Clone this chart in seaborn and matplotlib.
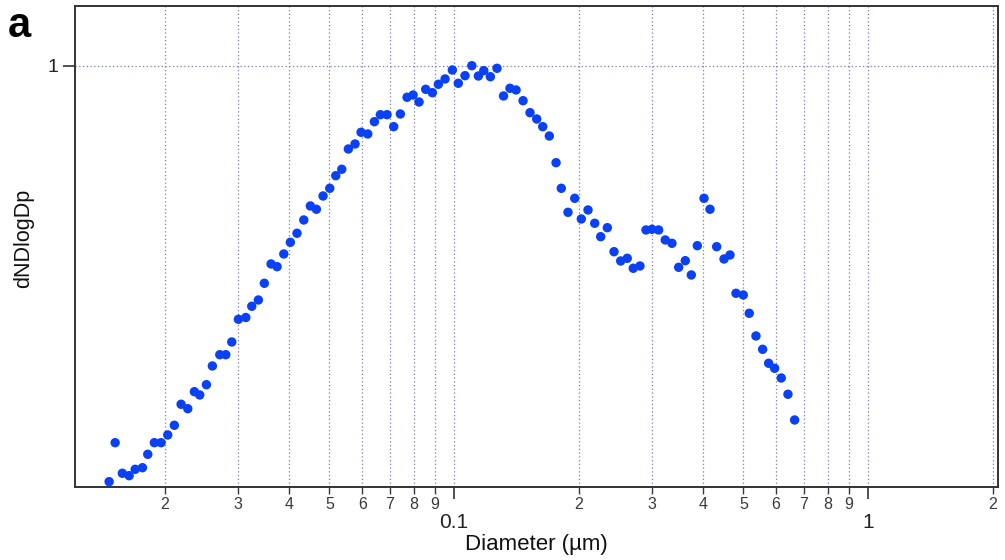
import matplotlib
matplotlib.use("Agg")
import matplotlib.pyplot as plt
import seaborn as sns
import pandas as pd
from matplotlib.ticker import FixedLocator, FixedFormatter

# ---- data (diameter in µm, normalised dN/dlogDp) ----
diameter_um = [
    0.01468, 0.01518, 0.01580, 0.01641, 0.01697, 0.01767, 0.01820, 0.01888,
    0.01960, 0.02034, 0.02110, 0.02191, 0.02274, 0.02359, 0.02430, 0.02522,
    0.02607, 0.02717, 0.02809, 0.02904, 0.03013, 0.03140, 0.03246, 0.03367,
    0.03481, 0.03614, 0.03737, 0.03879, 0.04023, 0.04175, 0.04335, 0.04497,
    0.04650, 0.04826, 0.05009, 0.05179, 0.05355, 0.05555, 0.05766, 0.05962,
    0.06188, 0.06420, 0.06637, 0.06889, 0.07149, 0.07418, 0.07700, 0.07962,
    0.08232, 0.08542, 0.08863, 0.09165, 0.09512, 0.09906, 0.1024, 0.1063,
    0.1104, 0.1145, 0.1180, 0.1224, 0.1270, 0.1317, 0.1365, 0.1412,
    0.1468, 0.1526, 0.1584, 0.1638, 0.1699, 0.1764, 0.1816, 0.1885,
    0.1957, 0.2030, 0.2107, 0.2187, 0.2261, 0.2346, 0.2435, 0.2527,
    0.2621, 0.2710, 0.2813, 0.2909, 0.3007, 0.3121, 0.3238, 0.3361,
    0.3489, 0.3620, 0.3743, 0.3870, 0.4017, 0.4153, 0.4310, 0.4490,
    0.4642, 0.4799, 0.4997, 0.5167, 0.5363, 0.5566, 0.5755, 0.5950,
    0.6173, 0.6408, 0.6650,
]
dndlogdp = [
    0.0138, 0.1062, 0.0337, 0.0280, 0.0431, 0.0469, 0.0787, 0.1062,
    0.1062, 0.1245, 0.1475, 0.1973, 0.1868, 0.2271, 0.2193, 0.2437,
    0.2881, 0.3148, 0.3148, 0.3450, 0.3988, 0.4030, 0.4296, 0.4445,
    0.4841, 0.5299, 0.5235, 0.5536, 0.5813, 0.6027, 0.6342, 0.6674,
    0.6596, 0.6911, 0.7093, 0.7392, 0.7544, 0.8025, 0.8144, 0.8421,
    0.8381, 0.8672, 0.8838, 0.8838, 0.8554, 0.8855, 0.9251, 0.9305,
    0.9139, 0.9440, 0.9360, 0.9559, 0.9685, 0.9898, 0.9583, 0.9763,
    1.0000, 0.9756, 0.9882, 0.9739, 0.9938, 0.9282, 0.9464, 0.9424,
    0.9170, 0.8886, 0.8736, 0.8554, 0.8333, 0.7700, 0.7093, 0.6524,
    0.6856, 0.6366, 0.6579, 0.6264, 0.5946, 0.6159, 0.5590, 0.5370,
    0.5434, 0.5197, 0.5251, 0.6105, 0.6121, 0.6105, 0.5868, 0.5789,
    0.5220, 0.5377, 0.5038, 0.5733, 0.6856, 0.6596, 0.5709, 0.5417,
    0.5512, 0.4604, 0.4564, 0.4130, 0.3592, 0.3276, 0.2945, 0.2826,
    0.2596, 0.2210, 0.1600,
]

x_major_ticks = [0.1, 1]
x_major_labels = ["0.1", "1"]
x_minor_ticks = [0.02, 0.03, 0.04, 0.05, 0.06, 0.07, 0.08, 0.09,
                 0.2, 0.3, 0.4, 0.5, 0.6, 0.7, 0.8, 0.9, 2]
x_minor_labels = ["2", "3", "4", "5", "6", "7", "8", "9",
                  "2", "3", "4", "5", "6", "7", "8", "9", "2"]
y_ticks = [1]
y_labels = ["1"]

sns.set_style("white")
plt.rcParams['font.family'] = ['Liberation Sans', 'DejaVu Sans']

fig = plt.figure(figsize=(10.05, 5.6), dpi=100)
ax = fig.add_axes([0.0746, 0.1295, 0.9184, 0.8598])

df = pd.DataFrame({"Diameter": diameter_um, "dNDlogDp": dndlogdp})
sns.scatterplot(data=df, x="Diameter", y="dNDlogDp", ax=ax, color="#0b41f5",
                s=46, edgecolor="none", linewidth=0, zorder=3)

ax.set_xscale("log")
ax.set_xlim(0.01214, 2.061)
ax.set_ylim(0, 1.1415)

ax.xaxis.set_major_locator(FixedLocator(x_major_ticks))
ax.xaxis.set_major_formatter(FixedFormatter(x_major_labels))
ax.xaxis.set_minor_locator(FixedLocator(x_minor_ticks))
ax.xaxis.set_minor_formatter(FixedFormatter(x_minor_labels))
ax.yaxis.set_major_locator(FixedLocator(y_ticks))
ax.yaxis.set_major_formatter(FixedFormatter(y_labels))

grid_kw = dict(color="#7b7bb5", linestyle=(0, (1, 2)), linewidth=0.9)
ax.grid(True, which="both", axis="x", **grid_kw)
ax.grid(True, which="major", axis="y", **grid_kw)
ax.set_axisbelow(True)

ax.tick_params(axis="x", which="major", bottom=True, direction="out",
               length=8.6, width=1.1, pad=9.5, labelsize=15, colors="#222222")
ax.tick_params(axis="x", which="minor", bottom=True, direction="out",
               length=5, width=1.0, pad=2, labelsize=11.5, colors="#3a3a3a")
ax.tick_params(axis="y", which="major", left=True, direction="out",
               length=8.6, width=1.1, pad=3, labelsize=14, colors="#222222")

for sp in ax.spines.values():
    sp.set_visible(True)
    sp.set_color("#333333")
    sp.set_linewidth(1.4)

ax.set_xlabel("Diameter (µm)", fontsize=16, labelpad=2, color="#111111")
ax.set_ylabel("dNDlogDp", fontsize=15.5, color="#111111")
ax.yaxis.set_label_coords(-0.0444, 0.518)

fig.text(0.008, 1 - 37 / 560, "a", fontsize=30, fontweight="bold",
         ha="left", va="baseline", color="black")

fig.savefig("out.png", dpi=100)
